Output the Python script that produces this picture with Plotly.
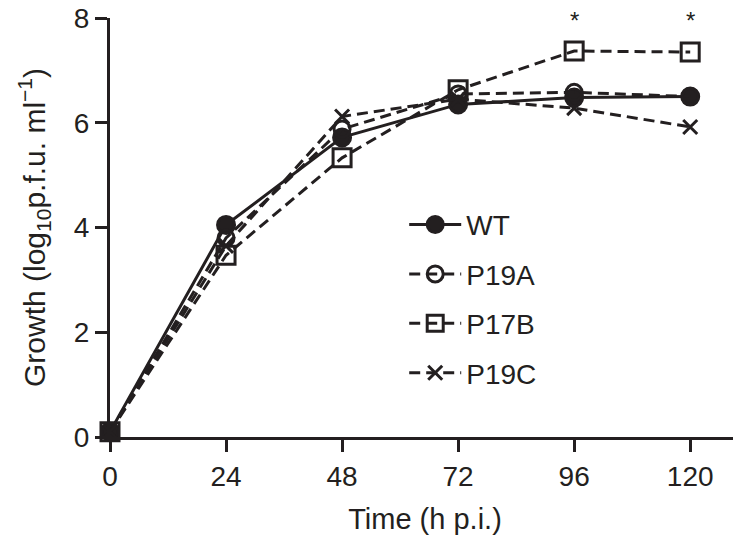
import plotly.graph_objects as go

time = [0, 24, 48, 72, 96, 120]
wt = [0.1, 4.05, 5.72, 6.35, 6.48, 6.5]
p19a = [0.1, 3.8, 5.88, 6.55, 6.58, 6.5]
p17b = [0.1, 3.47, 5.33, 6.63, 7.37, 7.35]
p19c = [0.1, 3.65, 6.12, 6.45, 6.28, 5.92]
sig_times = [96, 120]
sig_y = 7.95
x_ticks = [0, 24, 48, 72, 96, 120]
y_ticks = [0, 2, 4, 6, 8]

ink = "#231f20"
font = "Liberation Sans, Arial, sans-serif"
dash = "11px,6px"

fig = go.Figure()
series = [
    ("WT", wt, "circle", "solid", 17),
    ("P19A", p19a, "circle-open", dash, 16),
    ("P17B", p17b, "square-open", dash, 18),
    ("P19C", p19c, "x-thin-open", dash, 14),
]
for name, ys, sym, ds, sz in series:
    fig.add_trace(go.Scatter(
        x=time, y=ys, name=name, mode="lines+markers",
        line=dict(color=ink, width=3, dash=ds),
        marker=dict(symbol=sym, size=sz, color=ink, line=dict(color=ink, width=3)),
        cliponaxis=False, legendgroup=name,
    ))

for t in sig_times:
    fig.add_annotation(x=t, y=sig_y, text="*", showarrow=False,
                       font=dict(size=24, color=ink, family=font), yanchor="middle")

fig.update_layout(
    width=733, height=533,
    margin=dict(l=102, r=1, t=10, b=104),
    paper_bgcolor="white", plot_bgcolor="white",
    font=dict(family=font, color=ink, size=28),
    showlegend=True,
    legend=dict(x=0.467, y=0.566, xanchor="left", yanchor="top",
                font=dict(size=28, color=ink, family=font),
                bgcolor="rgba(0,0,0,0)", tracegroupgap=10,
                traceorder="grouped", itemwidth=52),
)
fig.update_xaxes(
    range=[0, 130.3], tickvals=x_ticks, ticktext=[str(v) for v in x_ticks],
    showline=True, linewidth=3, linecolor=ink, ticks="outside", ticklen=12,
    tickwidth=3, tickcolor=ink, showgrid=False, zeroline=False, automargin=False,
    ticklabeloverflow="allow",
    tickfont=dict(size=28, color=ink, family=font),
    title=dict(text="Time (h p.i.)", font=dict(size=29, color=ink, family=font), standoff=19),
)
fig.update_yaxes(
    range=[0, 8], tickvals=y_ticks, ticktext=[str(v) for v in y_ticks],
    showline=True, linewidth=3, linecolor=ink, ticks="outside", ticklen=12,
    tickwidth=3, tickcolor=ink, showgrid=False, zeroline=False, automargin=False,
    ticklabeloverflow="allow",
    tickfont=dict(size=28, color=ink, family=font),
    title=dict(text="Growth (log<sub>10</sub>p.f.u. ml<sup>−1</sup>)",
               font=dict(size=30, color=ink, family=font), standoff=20),
)
fig.write_html("out.html")
